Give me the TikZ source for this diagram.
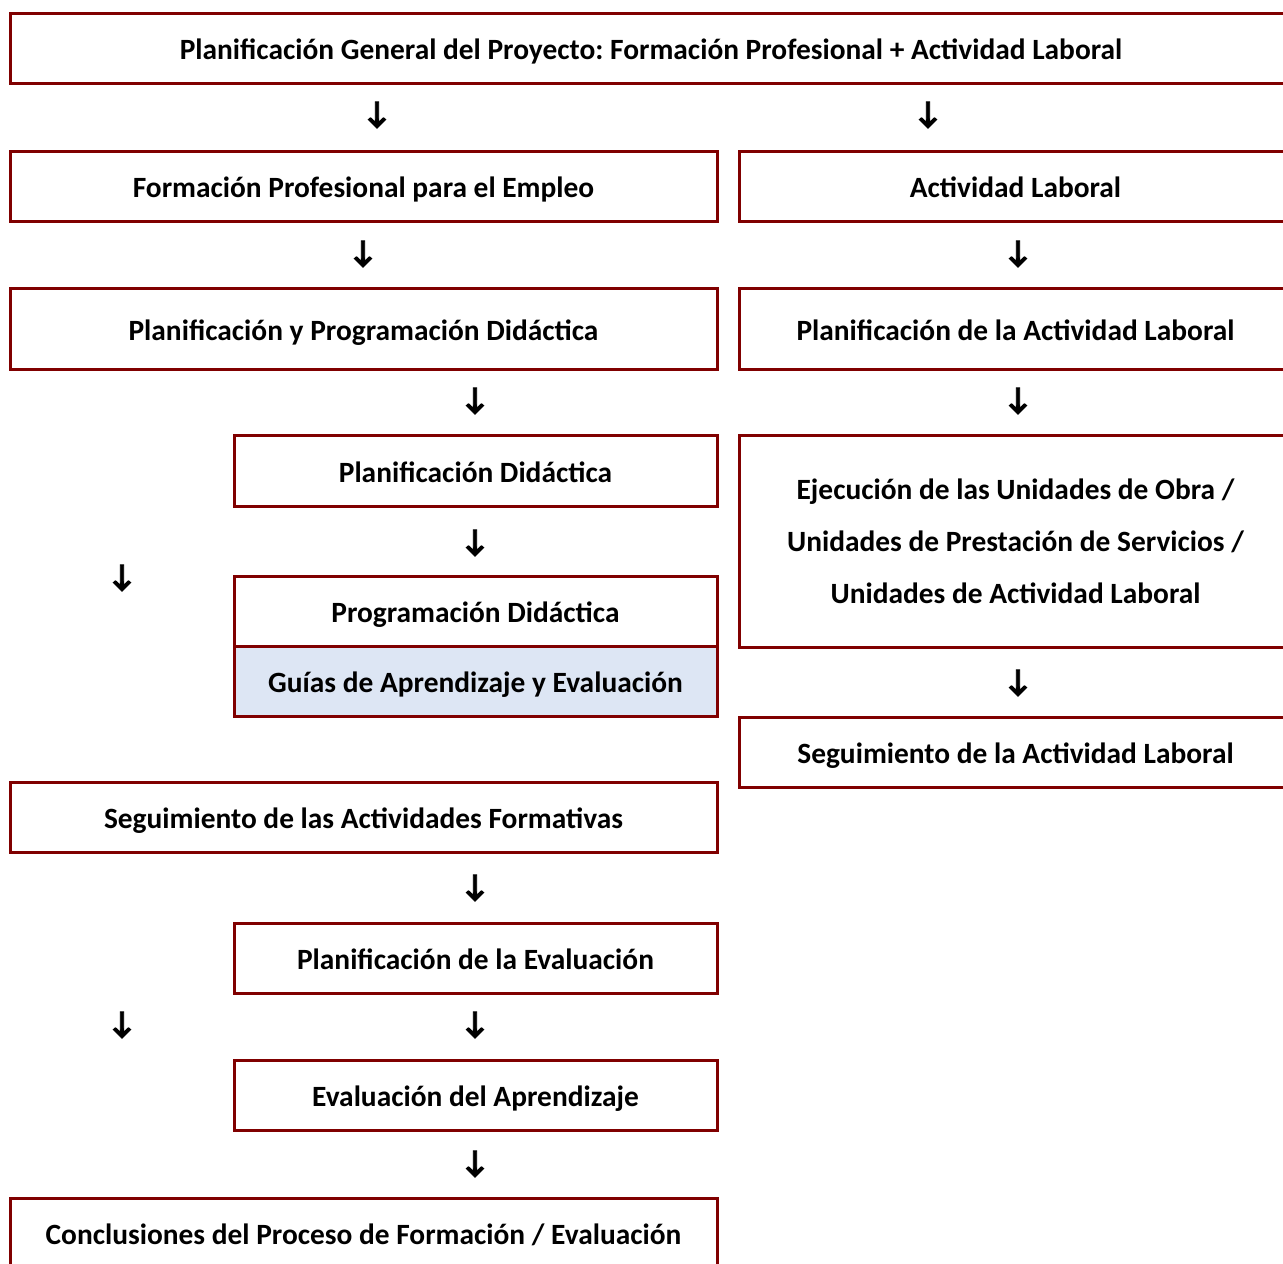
\documentclass[tikz,border=0pt]{standalone}
\usepackage{fontspec}
\setmainfont{Carlito}
\newfontfamily\arrowfont[FakeBold=3]{Carlito}
\usepackage{xcolor}
\definecolor{framered}{RGB}{128,0,0}
\definecolor{guidefill}{RGB}{221,230,244}
\newcommand{\framecolor}{framered}
\newcommand{\stagefont}{\fontsize{29.4}{52}\selectfont\bfseries\frenchspacing}

\begin{document}
\begin{tikzpicture}[x=1pt,y=-1pt,
    stage/.style={draw=\framecolor,line width=3pt,fill=white,
      inner sep=0pt,align=center,font=\stagefont},
    oneline/.style={stage,text height=29,text depth=6},
    wide/.style={oneline,minimum width=707,minimum height=70},
    narrow/.style={oneline,minimum width=483,minimum height=70},
    side/.style={oneline,minimum width=553,minimum height=70},
    arrowmark/.style={inner sep=0pt,font=\fontsize{31}{31}\arrowfont\bfseries}]
  \useasboundingbox (0,0) rectangle (1283,1264);
  \clip (0,0) rectangle (1283,1264);

  % general planning
  \node[oneline,minimum width=1282,minimum height=70] (general) at (651,48)
      {Planificación General del Proyecto: Formación Profesional + Actividad Laboral};

  % left column: training
  \node[wide] (training) at (363.5,186) {Formación Profesional para el Empleo};
  \node[wide,minimum height=81] (trainPlan) at (363.5,328.5)
      {Planificación y Programación Didáctica};
  \node[narrow,minimum height=71] (didPlan) at (475.5,470.5) {Planificación Didáctica};
  \node[narrow] (didProg) at (475.5,611) {Programación Didáctica};
  \node[narrow,fill=guidefill] (guides) at (475.5,681)
      {Guías de Aprendizaje y Evaluación};
  \node[wide] (trainFollow) at (363.5,817) {Seguimiento de las Actividades Formativas};
  \node[narrow] (evalPlan) at (475.5,958) {Planificación de la Evaluación};
  \node[narrow] (evalLearn) at (475.5,1095) {Evaluación del Aprendizaje};
  \node[wide] (conclusions) at (363.5,1233)
      {Conclusiones del Proceso de Formación / Evaluación};

  % right column: work activity
  \node[side] (work) at (1015.5,186) {Actividad Laboral};
  \node[side,minimum height=81] (workPlan) at (1015.5,328.5)
      {Planificación de la Actividad Laboral};
  \node[stage,minimum width=553,minimum height=212] (workUnits) at (1015.5,541)
      {Ejecución de las Unidades de Obra /\\
       Unidades de Prestación de Servicios /\\
       Unidades de Actividad Laboral};
  \node[side] (workFollow) at (1015.5,752) {Seguimiento de la Actividad Laboral};

  % arrow marks
  \foreach \ax/\ay [count=\i] in {377/115,928/115,363/254,1018/254,475/401,
      1018/401,475/543,122/578,1018/683,475/888,122/1025,475/1025,475/1164}
    \node[arrowmark] (arrow\i) at (\ax,\ay) {↓};
\end{tikzpicture}
\end{document}
